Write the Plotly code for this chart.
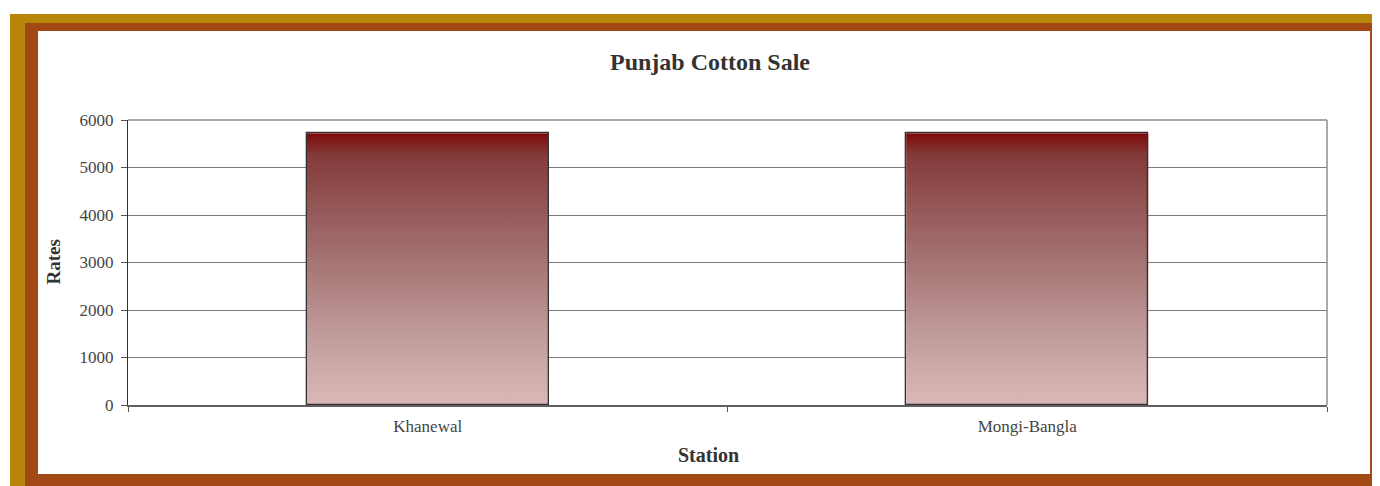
import plotly.graph_objects as go

# ---- data ----
stations = ["Khanewal", "Mongi-Bangla"]
rates = [5720, 5720]
y_ticks = [0, 1000, 2000, 3000, 4000, 5000, 6000]

title_text = "Punjab Cotton Sale"
x_title = "Station"
y_title = "Rates"

# ---- styles ----
BAR_W = 0.404
SERIF = "Liberation Serif, Times New Roman, serif"
grad = [
    [0.0, "#DBB8B8"],
    [0.25, "#C29C9C"],
    [0.5, "#A87878"],
    [0.75, "#935454"],
    [0.92, "#843A3A"],
    [0.97, "#801C1C"],
    [1.0, "#7E0808"],
]

OFF = 8  # page offset of the figure (body margin)
W, H = 1380, 486
# plot area in page pixels
PX0, PX1, PY0, PY1 = 128, 1327, 120, 405
L, R, T, B = PX0 - OFF, W - (PX1 - OFF), PY0 - OFF, H - (PY1 - OFF)
pw = PX1 - PX0
ph = PY1 - PY0

fig = go.Figure()

for i, (s, v) in enumerate(zip(stations, rates)):
    xs = [i - BAR_W / 2, i + BAR_W / 2, i + BAR_W / 2, i - BAR_W / 2, i - BAR_W / 2]
    ys = [0, 0, v, v, 0]
    fig.add_trace(go.Scatter(
        x=xs, y=ys, mode="lines", fill="toself",
        line=dict(width=0, color="rgba(0,0,0,0)"),
        fillgradient=dict(type="vertical", colorscale=grad, start=0, stop=v),
        hoverinfo="skip", showlegend=False, xaxis="x", yaxis="y",
    ))

fig.add_trace(go.Bar(
    x=stations, y=rates, width=BAR_W,
    marker=dict(color="rgba(0,0,0,0)", line=dict(color="#333333", width=1.3)),
    showlegend=False, xaxis="x2", yaxis="y",
))


def frame(x0, y0, x1, y1, color):
    # page-pixel rectangle -> pixel offsets from plot-area origin
    return dict(
        type="rect", layer="below", xref="paper", yref="paper",
        xsizemode="pixel", ysizemode="pixel", xanchor=0, yanchor=0,
        x0=x0 - PX0, x1=x1 - PX0, y0=PY1 - y1, y1=PY1 - y0,
        fillcolor=color, line=dict(width=0),
    )

shapes = [
    frame(10, 14, 1400, 500, "#B8860B"),
    frame(25, 23, 1377, 500, "#A34915"),
    frame(38, 31, 1370, 474, "#FFFFFF"),
    dict(type="line", xref="paper", yref="paper", x0=0, x1=1, y0=1, y1=1,
         line=dict(color="#8C8C8C", width=1.5), layer="above"),
    dict(type="line", xref="paper", yref="paper", x0=1, x1=1, y0=0, y1=1,
         line=dict(color="#8C8C8C", width=1.5), layer="above"),
]

fig.update_layout(
    width=W, height=H,
    margin=dict(l=L, r=R, t=T, b=B, autoexpand=False),
    paper_bgcolor="#FFFFFF", plot_bgcolor="#FFFFFF",
    font=dict(family=SERIF, color="#444444"),
    title=dict(text="<b>" + title_text + "</b>", font=dict(family=SERIF, size=24, color="#333333"),
               xref="paper", x=(710 - PX0) / pw, xanchor="center",
               yref="container", y=1 - (62 - OFF) / H, yanchor="middle"),
    xaxis=dict(type="linear", range=[-0.5, 1.5], visible=False, fixedrange=True),
    xaxis2=dict(type="category", overlaying="x", side="bottom", range=[-0.5, 1.5],
                categoryorder="array", categoryarray=stations,
                tickson="boundaries", ticks="outside", ticklen=5, tickcolor="#555555",
                ticklabelstandoff=5,
                tickfont=dict(family=SERIF, size=17, color="#444444"),
                showline=True, linecolor="#606060", linewidth=2,
                showgrid=False, zeroline=False),
    yaxis=dict(range=[0, 6000], tickvals=y_ticks, ticks="outside", ticklen=6,
               tickcolor="#555555", ticklabelstandoff=4,
               tickfont=dict(family=SERIF, size=17, color="#444444"),
               showline=True, linecolor="#333333", linewidth=1.3,
               showgrid=True, gridcolor="#7A7A7A", gridwidth=1,
               zeroline=False),
    shapes=shapes,
    annotations=[
        dict(text="<b>" + x_title + "</b>", xref="paper", yref="paper",
             x=(708 - PX0) / pw, y=-(455 - PY1) / ph, xanchor="center", yanchor="middle",
             showarrow=False, font=dict(family=SERIF, size=20, color="#333333")),
        dict(text="<b>" + y_title + "</b>", xref="paper", yref="paper",
             x=(53 - PX0) / pw, y=0.5, xanchor="center", yanchor="middle", textangle=-90,
             showarrow=False, font=dict(family=SERIF, size=19, color="#333333")),
    ],
    bargap=0,
)

fig.write_html("out.html")
